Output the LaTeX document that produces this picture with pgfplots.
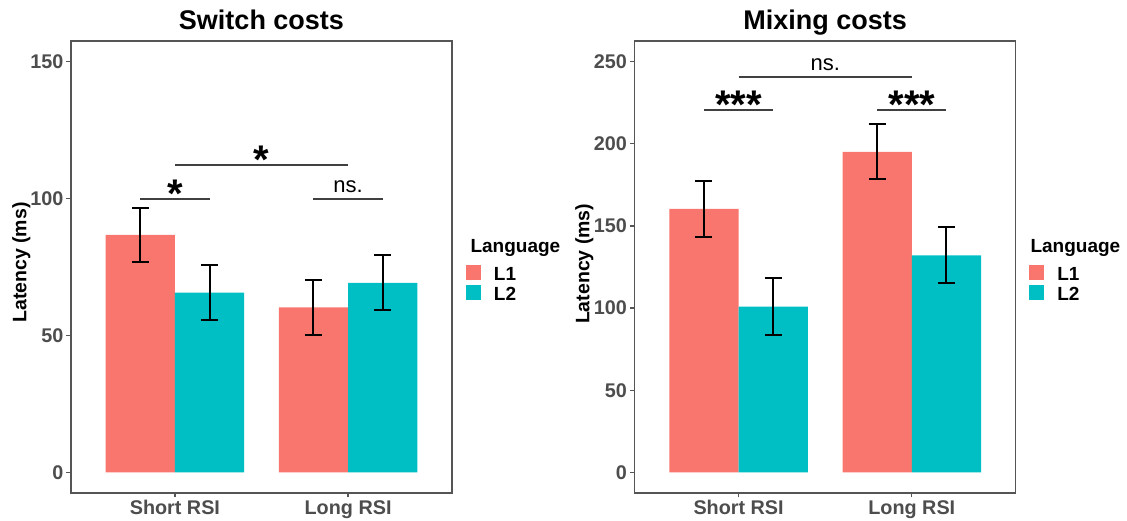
\documentclass[border=0pt]{standalone}
\usepackage{fontspec}
\setmainfont{Liberation Sans}
\usepackage{pgfplots}
\pgfplotsset{compat=1.18}
\definecolor{cLa}{HTML}{F8766D}
\definecolor{cLb}{HTML}{00BFC4}
\definecolor{tickgray}{HTML}{4D4D4D}
\definecolor{framegray}{HTML}{555555}
\definecolor{siggray}{HTML}{404040}
\tikzset{
  sigstar/.style={font=\fontsize{40}{40}\selectfont\bfseries, anchor=base, yshift=-8.6pt},
  nslab/.style={font=\fontsize{22}{22}\selectfont, anchor=base, yshift=6pt},
  legtitle/.style={font=\fontsize{19}{20}\selectfont\bfseries, anchor=base west},
}
\pgfplotsset{
  myaxis/.style={
    scale only axis, width=381pt, height=452pt, anchor=south west,
    clip=false,
    xmin=0.4, xmax=2.6, xtick={1,2}, xticklabels={Short RSI, Long RSI},
    axis line style={framegray, line width=1.2pt},
    tick style={framegray, line width=1.2pt},
    tick align=outside, major tick length=4.5pt,
    xtick pos=bottom, ytick pos=left,
    /pgf/number format/assume math mode=true,
    ticklabel style={font=\fontsize{19.8}{20}\selectfont\bfseries, text=tickgray},
    xticklabel style={anchor=base, inner sep=0pt},
    yticklabel style={anchor=east, inner sep=0pt},
    every axis title/.style={at={(axis description cs:0.5,1)}, anchor=base, yshift=11pt, font=\fontsize{27}{28}\selectfont\bfseries},
    ylabel={Latency (ms)},
    legend style={anchor=north west, draw=none, fill=none, inner sep=0pt, outer sep=0pt,
      row sep=3.3pt,
      nodes={inner sep=0pt, font=\fontsize{19}{20}\selectfont\bfseries},
      /tikz/every odd column/.style={column sep=13pt}},
    legend cell align=left,
  },
  bars/.style={ybar, bar width=0.4, bar shift=0pt, draw=none,
    legend image code/.code={\fill[##1] (0pt,-5.6pt) rectangle (15pt,9.4pt);},
    error bars/y dir=both, error bars/y explicit,
    error bars/error bar style={black, line width=2pt},
    error bars/error mark options={black, rotate=90, mark size=8.5pt, line width=2pt}},
  sig/.style={siggray, line width=2pt, forget plot, mark=none},
}
\begin{document}
\begin{tikzpicture}
\useasboundingbox (0pt,0pt) rectangle (1127pt,521pt);
% ---------- Switch costs ----------
\begin{axis}[myaxis, at={(71pt,28pt)},
  title={Switch costs},
  ymin=-7.5, ymax=157.5, ytick={0,50,100,150},
  xticklabel style={yshift=-17.5pt},
  yticklabel style={xshift=-3pt},
  every axis y label/.style={at={(axis description cs:-0.1168,0.51)}, rotate=90, anchor=base, font=\fontsize{19.5}{20}\selectfont\bfseries},
  legend style={at={(axis description cs:1.0367,0.5044)}},
]
% L1: Short RSI at 0.8, Long RSI at 1.8
\addplot[bars, fill=cLa] coordinates {
  (0.8,86.7) +- (0,9.9)
  (1.8,60.3) +- (0,10.0)
};
\addlegendentry{L1}
% L2: Short RSI at 1.2, Long RSI at 2.2
\addplot[bars, fill=cLb] coordinates {
  (1.2,65.6) +- (0,10.0)
  (2.2,69.2) +- (0,10.0)
};
\addlegendentry{L2}
\addplot[sig] coordinates {(0.8,100) (1.2,100)};
\addplot[sig] coordinates {(1.8,100) (2.2,100)};
\addplot[sig] coordinates {(1.0,112.2) (2.0,112.2)};
\node[sigstar] at (axis cs:1,100) {*};
\node[nslab] at (axis cs:2,100) {ns.};
\node[sigstar] at (axis cs:1.5,112.2) {*};
\node[legtitle] at (axis description cs:1.0394,0.531) {Language};
\end{axis}
% ---------- Mixing costs ----------
\begin{axis}[myaxis, at={(634.7pt,28pt)},
  title={Mixing costs},
  ymin=-12.5, ymax=262.5, ytick={0,50,100,150,200,250},
  xticklabel style={yshift=-17.5pt},
  yticklabel style={xshift=-3pt},
  every axis y label/.style={at={(axis description cs:-0.119,0.507)}, rotate=90, anchor=base, font=\fontsize{19.5}{20}\selectfont\bfseries},
  legend style={at={(axis description cs:1.0357,0.5044)}},
]
\addplot[bars, fill=cLa] coordinates {
  (0.8,160.3) +- (0,17.0)
  (1.8,195.0) +- (0,16.7)
};
\addlegendentry{L1}
\addplot[bars, fill=cLb] coordinates {
  (1.2,100.9) +- (0,17.2)
  (2.2,132.1) +- (0,17.0)
};
\addlegendentry{L2}
\addplot[sig] coordinates {(0.8,220.5) (1.2,220.5)};
\addplot[sig] coordinates {(1.8,220.5) (2.2,220.5)};
\addplot[sig] coordinates {(1.0,240.6) (2.0,240.6)};
\node[sigstar] at (axis cs:1,220.5) {***};
\node[sigstar] at (axis cs:2,220.5) {***};
\node[nslab] at (axis cs:1.5,240.6) {ns.};
\node[legtitle] at (axis description cs:1.0297,0.531) {Language};
\end{axis}
\end{tikzpicture}
\end{document}
